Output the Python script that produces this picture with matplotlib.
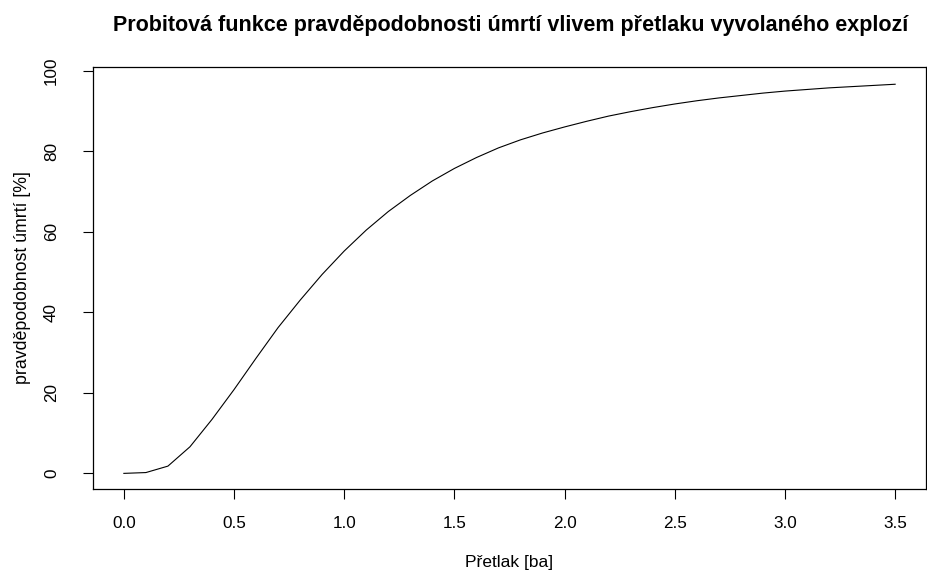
import matplotlib
matplotlib.use("Agg")
import matplotlib.pyplot as plt

# tlak a odpovídající pravděpodobnost úmrtí (probit)
pretlak = [0.0, 0.1, 0.2, 0.3, 0.4, 0.5, 0.6, 0.7, 0.8, 0.9, 1.0,
           1.1, 1.2, 1.3, 1.4, 1.5, 1.6, 1.7, 1.8, 1.9, 2.0,
           2.1, 2.2, 2.3, 2.4, 2.5, 2.6, 2.7, 2.8, 2.9, 3.0,
           3.1, 3.2, 3.3, 3.4, 3.5]
umrti = [0.0, 0.2, 1.8, 6.6, 13.4, 20.8, 28.6, 36.2, 43.0, 49.4, 55.2,
         60.4, 65.0, 69.0, 72.6, 75.7, 78.4, 80.8, 82.8, 84.5, 86.0,
         87.4, 88.7, 89.8, 90.8, 91.7, 92.5, 93.2, 93.8, 94.4, 94.9,
         95.3, 95.7, 96.0, 96.3, 96.6]
x_ticks = [0.0, 0.5, 1.0, 1.5, 2.0, 2.5, 3.0, 3.5]
y_ticks = [0, 20, 40, 60, 80, 100]

plt.rcParams["font.family"] = ["Liberation Sans", "DejaVu Sans"]

W, H = 927, 574
fig = plt.figure(figsize=(W / 100, H / 100), dpi=100)
left, right, top, bottom = 93, 926, 67, 489
ax = fig.add_axes([left / W, 1 - bottom / H, (right - left) / W, (bottom - top) / H])

ax.plot(pretlak, umrti, color="black", lw=0.8)

ax.set_xlim(-0.14, 3.64)
ax.set_ylim(-3.88, 100.88)
ax.set_xticks(x_ticks)
ax.set_xticklabels([f"{v:.1f}" for v in x_ticks])
ax.set_yticks(y_ticks)
ax.set_yticklabels([str(v) for v in y_ticks], rotation=90, va="center")
ax.tick_params(axis="both", direction="out", length=7.5, width=0.8,
               labelsize=12.3, colors="black")
ax.tick_params(axis="x", pad=12)
ax.tick_params(axis="y", pad=17)
for s in ax.spines.values():
    s.set_linewidth(0.9)

ax.set_xlabel("Přetlak [ba]", fontsize=12.5)
ax.xaxis.set_label_coords(((left + right) / 2 - left) / (right - left),
                          (bottom - 563) / (bottom - top))
ax.xaxis.label.set_va("center")
ax.set_ylabel("pravděpodobnost úmrtí [%]", fontsize=12.8)
ax.yaxis.set_label_coords((23 - left) / (right - left), 0.5)
ax.yaxis.label.set_va("center")

fig.text(510.5 / W, 1 - 26 / H,
         "Probitová funkce pravděpodobnosti úmrtí vlivem přetlaku vyvolaného explozí",
         ha="center", va="center", fontsize=15.5, fontweight="bold")

fig.savefig("out.png", dpi=100)
